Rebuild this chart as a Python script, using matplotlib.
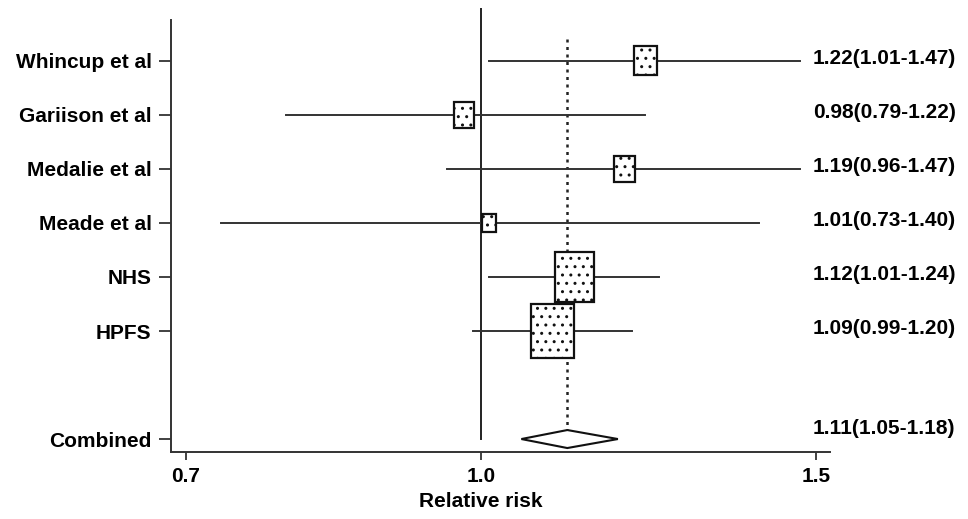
import numpy as np
import matplotlib.pyplot as plt
from matplotlib.patches import Rectangle, Polygon

plt.rcParams['font.family'] = ['Liberation Sans', 'DejaVu Sans']
plt.rcParams['font.weight'] = 'bold'
plt.rcParams['hatch.color'] = 'black'
plt.rcParams['hatch.linewidth'] = 1.0

# study data
studies = ['Whincup et al', 'Gariison et al', 'Medalie et al', 'Meade et al', 'NHS', 'HPFS']
rr = [1.22, 0.98, 1.19, 1.01, 1.12, 1.09]
lower = [1.01, 0.79, 0.96, 0.73, 1.01, 0.99]
upper = [1.47, 1.22, 1.47, 1.40, 1.24, 1.20]
weights = [10.0, 7.5, 8.3, 3.7, 29.0, 34.0]  # relative weight, sets box area

combined_label = 'Combined'
combined_rr = 1.11
combined_lo = 1.05
combined_hi = 1.18

xticks = [0.7, 1.0, 1.5]
xtick_labels = ['0.7', '1.0', '1.5']

rows = list(range(len(studies)))
combined_row = len(studies) + 1

fig = plt.figure(figsize=(9.68, 5.19), dpi=100)
ax = fig.add_axes([171 / 968, 1 - 452 / 519, 659 / 968, 444 / 519])
ax.set_xscale('log')
ax.set_xlim(0.6874, 1.525)
ax.set_ylim(7.24, -0.98)

# reference line at 1 and dotted line at combined estimate
ax.plot([1.0, 1.0], [-0.98, combined_row], color='#222222', lw=1.4, zorder=1)
ax.plot([combined_rr, combined_rr], [-0.4, combined_row - 0.17], color='#222222',
        lw=1.8, linestyle=(0, (1.2, 1.8)), zorder=1)

# confidence intervals
for r, lo, hi in zip(rows, lower, upper):
    ax.plot([lo, hi], [r, r], color='#333333', lw=1.4, zorder=2)

# boxes (pixel sized, area ~ weight)
fig.canvas.draw()
inv = ax.transData.inverted()
for r, x, w in zip(rows, rr, weights):
    side = 7.3 * np.sqrt(w)
    hw, hh = side / 2, side * 1.26 / 2
    cx, cy = ax.transData.transform((x, r))
    (x0, y0), (x1, y1) = inv.transform([(cx - hw, cy - hh), (cx + hw, cy + hh)])
    ax.add_patch(Rectangle((x0, y1), x1 - x0, y0 - y1, facecolor='white',
                           edgecolor='#111111', lw=1.6, hatch='..', zorder=3))

# combined diamond
cx, cy = ax.transData.transform((combined_rr, combined_row))
top = inv.transform((cx, cy + 9))[1]
bot = inv.transform((cx, cy - 9))[1]
ax.add_patch(Polygon([(combined_lo, combined_row), (combined_rr, top),
                      (combined_hi, combined_row), (combined_rr, bot)],
                     closed=True, facecolor='white', edgecolor='#111111', lw=1.5, zorder=3))

# right-hand labels
trans = ax.get_yaxis_transform()
for r, x, lo, hi in zip(rows, rr, lower, upper):
    ax.text(0.974, r - 0.04, f'{x:.2f}({lo:.2f}-{hi:.2f})', transform=trans,
            fontsize=15, fontweight='bold', va='center', ha='left')
ax.text(0.974, combined_row - 0.2, f'{combined_rr:.2f}({combined_lo:.2f}-{combined_hi:.2f})',
        transform=trans, fontsize=15, fontweight='bold', va='center', ha='left')

ax.set_yticks(rows + [combined_row])
ax.set_yticklabels(studies + [combined_label], fontsize=15, fontweight='bold')
ax.set_xticks(xticks)
ax.set_xticklabels(xtick_labels, fontsize=15, fontweight='bold')
ax.minorticks_off()
ax.tick_params(axis='y', length=9, width=1.3, pad=5, color='#333333')
ax.tick_params(axis='x', length=6, width=1.3, pad=5, color='#333333')

ax.set_xlabel('Relative risk', fontsize=15, fontweight='bold', labelpad=4)
ax.xaxis.label.set_x(0.47)

for s in ['top', 'right']:
    ax.spines[s].set_visible(False)
for s in ['left', 'bottom']:
    ax.spines[s].set_linewidth(1.4)
    ax.spines[s].set_color('#333333')
ax.spines['left'].set_bounds(7.24, -0.76)

fig.savefig('out.png', dpi=100)
